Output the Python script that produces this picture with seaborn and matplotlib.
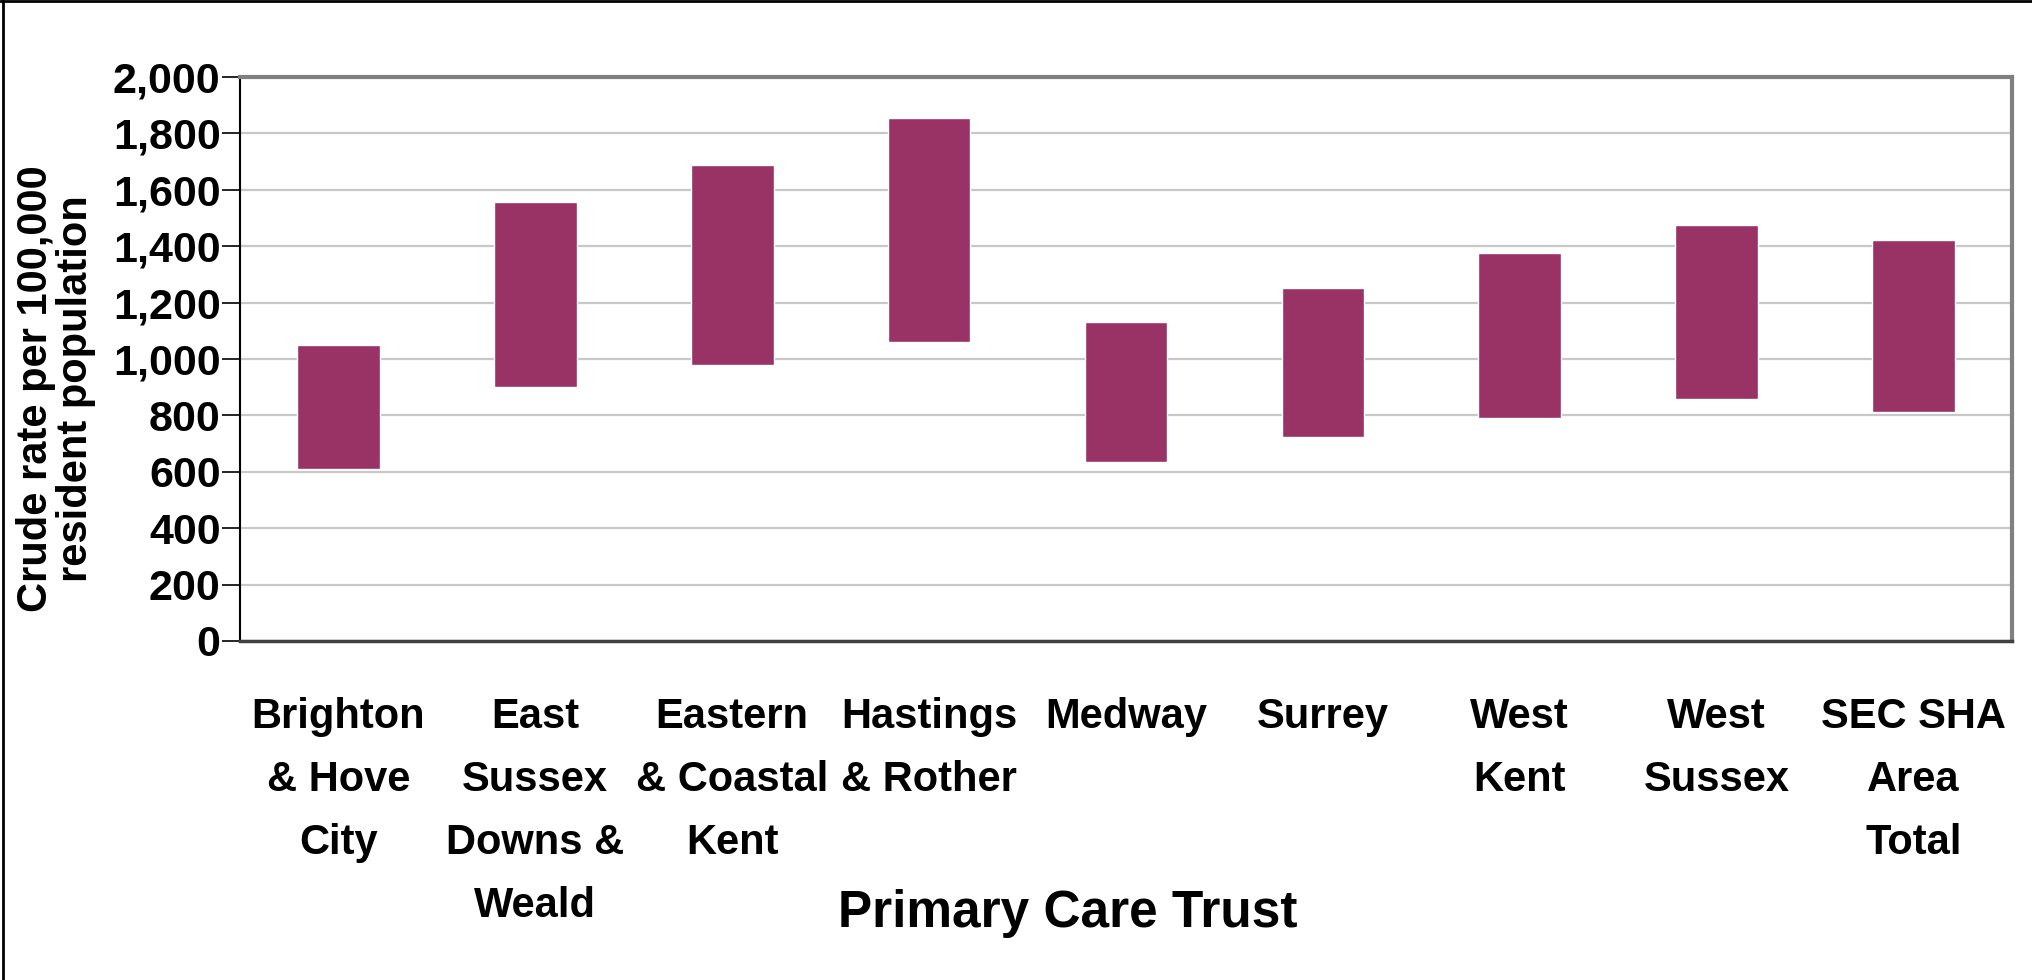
import matplotlib
matplotlib.use("Agg")
import matplotlib.pyplot as plt
from matplotlib.lines import Line2D
import seaborn as sns
import pandas as pd
import numpy as np

categories = ["Brighton\n& Hove\nCity", "East\nSussex\nDowns &\nWeald", "Eastern\n& Coastal\nKent",
              "Hastings\n& Rother", "Medway", "Surrey", "West\nKent", "West\nSussex", "SEC SHA\nArea\nTotal"]
lower = [610, 900, 980, 1060, 635, 722, 792, 857, 813]
upper = [1048, 1555, 1689, 1855, 1130, 1251, 1376, 1476, 1423]
yticks = [0, 200, 400, 600, 800, 1000, 1200, 1400, 1600, 1800, 2000]

sns.set_style("white")
plt.rcParams['font.family'] = ['Liberation Sans', 'DejaVu Sans']
plt.rcParams['font.weight'] = 'bold'
for k in ['text.color', 'axes.labelcolor', 'xtick.color', 'ytick.color']:
    plt.rcParams[k] = 'black'

df = pd.DataFrame({"cat": categories,
                   "height": np.array(upper) - np.array(lower),
                   "low": lower})

fig = plt.figure(figsize=(20.33, 9.8), dpi=100)
ax = fig.add_axes([240/2033, 1 - 641/980, 1772/2033, 564/980])

sns.barplot(data=df, x="cat", y="height", bottom=df["low"].values, color="#993366",
            saturation=1, width=0.42, ax=ax, zorder=3)

ax.set_ylim(0, 2000)
ax.set_xlim(-0.5, len(categories) - 0.5)
ax.set_yticks(yticks)
ax.set_yticklabels([f"{v:,}" for v in yticks], fontsize=31, fontweight='bold')
ax.yaxis.grid(True, color="#c8c8c8", lw=1.6, zorder=0)
ax.set_axisbelow(True)

ax.set_xticks(range(len(categories)))
ax.set_xticklabels(categories, fontsize=30, fontweight='bold', linespacing=1.75, va='top')
ax.tick_params(axis='x', which='major', length=0, pad=40)
ax.set_xticks(np.arange(-0.5, len(categories), 1), minor=True)
ax.tick_params(axis='x', which='minor', length=15, width=1.2, color='black', direction='out')
ax.tick_params(axis='y', length=13, width=1.2, color='black', direction='out', pad=1, left=True)

ax.set_ylabel("Crude rate per 100,000\nresident population", fontsize=30, fontweight='bold',
              linespacing=1.0)
ax.yaxis.set_label_coords(-0.081, 0.447)
ax.set_xlabel("Primary Care Trust", fontsize=37, fontweight='bold')
ax.xaxis.set_label_coords(0.467, -0.44)

for s in ["top", "right"]:
    ax.spines[s].set_color("#808080")
    ax.spines[s].set_linewidth(3)
    ax.spines[s].set_visible(True)
ax.spines["left"].set_color("black")
ax.spines["left"].set_linewidth(1.5)
ax.spines["bottom"].set_color("#404040")
ax.spines["bottom"].set_linewidth(2.5)
ax.spines["left"].set_visible(True)
ax.spines["bottom"].set_visible(True)

fig.add_artist(Line2D([3/2033, 3/2033], [0, 1], color="black", lw=2, transform=fig.transFigure))
fig.add_artist(Line2D([0, 1], [1 - 1/980, 1 - 1/980], color="black", lw=2, transform=fig.transFigure))

fig.savefig("out.png", dpi=100, facecolor="white")
